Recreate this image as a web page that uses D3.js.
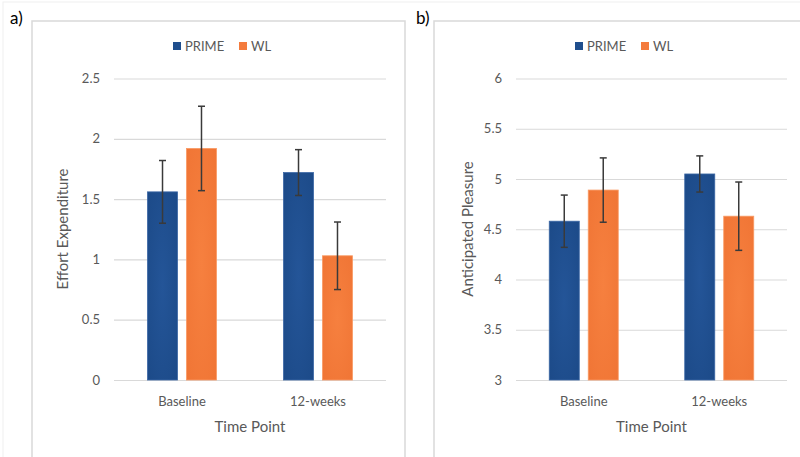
<!DOCTYPE html>
<html>
<head>
<meta charset="utf-8">
<script src="https://cdnjs.cloudflare.com/ajax/libs/d3/7.8.5/d3.min.js"></script>
<style>
  body { margin: 0; background: #fff; }
  svg { display: block; font-family: Lato, "Open Sans", sans-serif; }
</style>
</head>
<body>
<svg id="chart" width="800" height="457"></svg>
<script>
// data
var timePoints = ['Baseline', '12-weeks'];
var groups = ['PRIME', 'WL'];

var effortPrime = [1.56, 1.72];
var effortPrimeErr = [0.26, 0.19];
var effortWL = [1.92, 1.03];
var effortWLErr = [0.35, 0.28];
var effortTicks = [0, 0.5, 1, 1.5, 2, 2.5];

var pleasurePrime = [4.58, 5.05];
var pleasurePrimeErr = [0.26, 0.18];
var pleasureWL = [4.89, 4.63];
var pleasureWLErr = [0.32, 0.34];
var pleasureTicks = [3, 3.5, 4, 4.5, 5, 5.5, 6];

var colors = { PRIME: '#1f4e8d', WL: '#f47b3d' };

(function(d3) {
  'use strict';

  var svg = d3.select('#chart');

  // soft glow look of the excel bars
  var defs = svg.append('defs');
  function glow(id, inner, outer) {
    var g = defs.append('radialGradient').attr('id', id)
      .attr('cx', '50%').attr('cy', '50%').attr('r', '70%');
    g.append('stop').attr('offset', '0%').attr('stop-color', inner);
    g.append('stop').attr('offset', '100%').attr('stop-color', outer);
  }
  glow('g-PRIME', '#245598', '#1c4a88');
  glow('g-WL', '#f6803f', '#f07535');

  // faint outer frame
  svg.append('rect')
    .attr('x', 3).attr('y', 2).attr('width', 800).attr('height', 460)
    .attr('fill', 'none').attr('stroke', '#f0f0f0');

  function plotPanel(p) {
    var g = svg.append('g');

    g.append('rect')
      .attr('x', p.box[0]).attr('y', p.box[1])
      .attr('width', p.box[2]).attr('height', p.box[3])
      .attr('fill', '#fff').attr('stroke', '#d9d9d9').attr('stroke-width', 1.5);

    g.append('text')
      .attr('x', p.labelX).attr('y', 24)
      .attr('font-size', 17).attr('fill', '#000')
      .text(p.label);

    var y = d3.scaleLinear().domain(p.domain).range([380, 78.5]);
    var x0 = d3.scaleBand().domain(timePoints).range(p.xRange);
    var x1 = d3.scaleBand().domain(groups).range([-34.5, 34.5]).paddingInner(0.23);

    // gridlines + tick labels
    var yAxis = d3.axisLeft(y).tickValues(p.ticks).tickSize(-(p.xRange[1] - p.xRange[0]))
      .tickPadding(14).tickFormat(function(d) { return d; });
    var ax = g.append('g').attr('transform', 'translate(' + p.xRange[0] + ',0)').call(yAxis);
    ax.select('.domain').remove();
    ax.selectAll('line').attr('stroke', '#d9d9d9').attr('stroke-width', 1.2);
    ax.selectAll('text').attr('fill', '#595959').attr('font-size', 13)
      .attr('font-family', 'Lato, sans-serif');

    // bars
    var rows = [];
    timePoints.forEach(function(t, i) {
      rows.push({ t: t, s: 'PRIME', v: p.prime[i], e: p.primeErr[i] });
      rows.push({ t: t, s: 'WL', v: p.wl[i], e: p.wlErr[i] });
    });

    var bx = function(d) { return x0(d.t) + x0.bandwidth() / 2 + x1(d.s); };

    g.selectAll('rect.bar').data(rows).enter().append('rect')
      .attr('class', 'bar')
      .attr('x', bx)
      .attr('y', function(d) { return y(d.v); })
      .attr('width', x1.bandwidth())
      .attr('height', function(d) { return y(p.domain[0]) - y(d.v); })
      .attr('fill', function(d) { return 'url(#g-' + d.s + ')'; })
      .attr('stroke', function(d) { return d.s === 'PRIME' ? '#3b67a5' : '#f99a64'; })
      .attr('stroke-width', 0.8);

    // error bars
    var cx = function(d) { return bx(d) + x1.bandwidth() / 2; };
    var err = g.selectAll('g.err').data(rows).enter().append('g')
      .attr('class', 'err').attr('stroke', '#3a3a3a').attr('stroke-width', 1.5);
    err.append('line')
      .attr('x1', cx).attr('x2', cx)
      .attr('y1', function(d) { return y(d.v + d.e); })
      .attr('y2', function(d) { return y(d.v - d.e); });
    err.append('line')
      .attr('x1', function(d) { return cx(d) - 3.5; }).attr('x2', function(d) { return cx(d) + 3.5; })
      .attr('y1', function(d) { return y(d.v + d.e); }).attr('y2', function(d) { return y(d.v + d.e); });
    err.append('line')
      .attr('x1', function(d) { return cx(d) - 3.5; }).attr('x2', function(d) { return cx(d) + 3.5; })
      .attr('y1', function(d) { return y(d.v - d.e); }).attr('y2', function(d) { return y(d.v - d.e); });

    // category labels
    g.selectAll('text.cat').data(timePoints).enter().append('text')
      .attr('class', 'cat')
      .attr('x', function(d) { return x0(d) + x0.bandwidth() / 2; })
      .attr('y', 406)
      .attr('text-anchor', 'middle').attr('font-size', 13).attr('fill', '#595959')
      .text(function(d) { return d; });

    // axis titles
    g.append('text')
      .attr('x', (p.xRange[0] + p.xRange[1]) / 2).attr('y', 432)
      .attr('text-anchor', 'middle').attr('font-size', 15).attr('fill', '#595959')
      .text('Time Point');
    g.append('text')
      .attr('transform', 'translate(' + p.titleX + ',229) rotate(-90)')
      .attr('text-anchor', 'middle').attr('font-size', 15).attr('fill', '#595959')
      .text(p.yTitle);

    // legend
    var lg = g.append('g').attr('transform', 'translate(' + p.legendX + ',46)');
    var li = lg.selectAll('g').data(groups).enter().append('g')
      .attr('transform', function(d, i) { return 'translate(' + (i * 66) + ',0)'; });
    li.append('rect').attr('x', 0).attr('y', -4).attr('width', 8).attr('height', 8)
      .attr('fill', function(d) { return colors[d]; });
    li.append('text').attr('x', 12).attr('y', 5)
      .attr('font-size', 13).attr('fill', '#595959')
      .text(function(d) { return d; });
  }

  plotPanel({
    label: 'a)', labelX: 10,
    box: [32, 21, 373, 440],
    xRange: [114, 386],
    domain: [0, 2.5], ticks: effortTicks,
    prime: effortPrime, primeErr: effortPrimeErr,
    wl: effortWL, wlErr: effortWLErr,
    yTitle: 'Effort Expenditure', titleX: 68,
    legendX: 173
  });

  plotPanel({
    label: 'b)', labelX: 416,
    box: [434, 21, 380, 440],
    xRange: [516, 787],
    domain: [3, 6], ticks: pleasureTicks,
    prime: pleasurePrime, primeErr: pleasurePrimeErr,
    wl: pleasureWL, wlErr: pleasureWLErr,
    yTitle: 'Anticipated Pleasure', titleX: 473,
    legendX: 575
  });

})(window.d3);
</script>
</body>
</html>
